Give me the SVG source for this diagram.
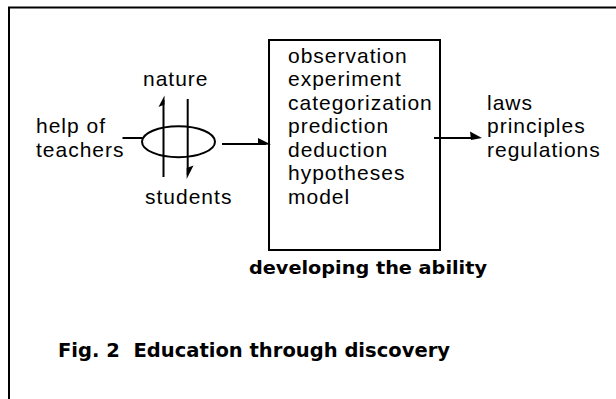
<svg xmlns="http://www.w3.org/2000/svg" width="616" height="399" viewBox="0 0 616 399">
<style>
.t{font-family:"Liberation Sans",Arial,sans-serif;font-size:21px;letter-spacing:1px;fill:#000}
.b{font-family:"DejaVu Sans","Liberation Sans",sans-serif;font-weight:bold;fill:#000}
.ln{stroke:#000;stroke-width:2;fill:none}
.hd{fill:#000;stroke:none}
</style>
<rect width="616" height="399" fill="#fff"/>
<g id="frame"><path class="ln" d="M9,400 V7.5 H616" stroke-width="2.2"/></g>
<g id="teachers"><text class="t" x="36" y="133">help of</text><text class="t" x="36" y="156.5">teachers</text></g>
<g id="nature"><text class="t" x="143" y="85.5">nature</text></g>
<g id="students"><text class="t" x="145" y="204">students</text></g>
<g id="loop"><ellipse class="ln" cx="178.5" cy="141.7" rx="36.5" ry="15.5"/></g>
<g id="process">
<rect class="ln" x="269" y="40" width="171" height="210"/>
<text class="t" x="288" y="62.5">observation</text>
<text class="t" x="288" y="86">experiment</text>
<text class="t" x="288" y="109.5">categorization</text>
<text class="t" x="288" y="133">prediction</text>
<text class="t" x="288" y="156.5">deduction</text>
<text class="t" x="288" y="180">hypotheses</text>
<text class="t" x="288" y="203.5">model</text>
</g>
<g id="ability"><text class="b" x="249" y="274" font-size="17" textLength="238" lengthAdjust="spacingAndGlyphs">developing the ability</text></g>
<g id="results">
<text class="t" x="487" y="110">laws</text>
<text class="t" x="487" y="133">principles</text>
<text class="t" x="487" y="156.5">regulations</text>
</g>
<g id="caption"><text class="b" x="58" y="357" font-size="19" textLength="392" lengthAdjust="spacingAndGlyphs" xml:space="preserve">Fig. 2  Education through discovery</text></g>
<g id="connectors">
<line class="ln" x1="122.5" y1="138" x2="142.5" y2="138"/>
<line class="ln" x1="163.5" y1="177" x2="163.5" y2="100"/>
<polygon class="hd" points="164.5,95.5 158.5,107 164.5,104.5"/>
<line class="ln" x1="187.7" y1="99" x2="187.7" y2="175"/>
<polygon class="hd" points="186.7,179 186.7,168 193.5,165.5"/>
<line class="ln" x1="222" y1="144" x2="266" y2="144"/>
<polygon class="hd" points="271,144.5 258,138 258,145"/>
<line class="ln" x1="434" y1="138" x2="476" y2="138"/>
<polygon class="hd" points="482,138 470,131.5 471,140"/>
</g>
</svg>
